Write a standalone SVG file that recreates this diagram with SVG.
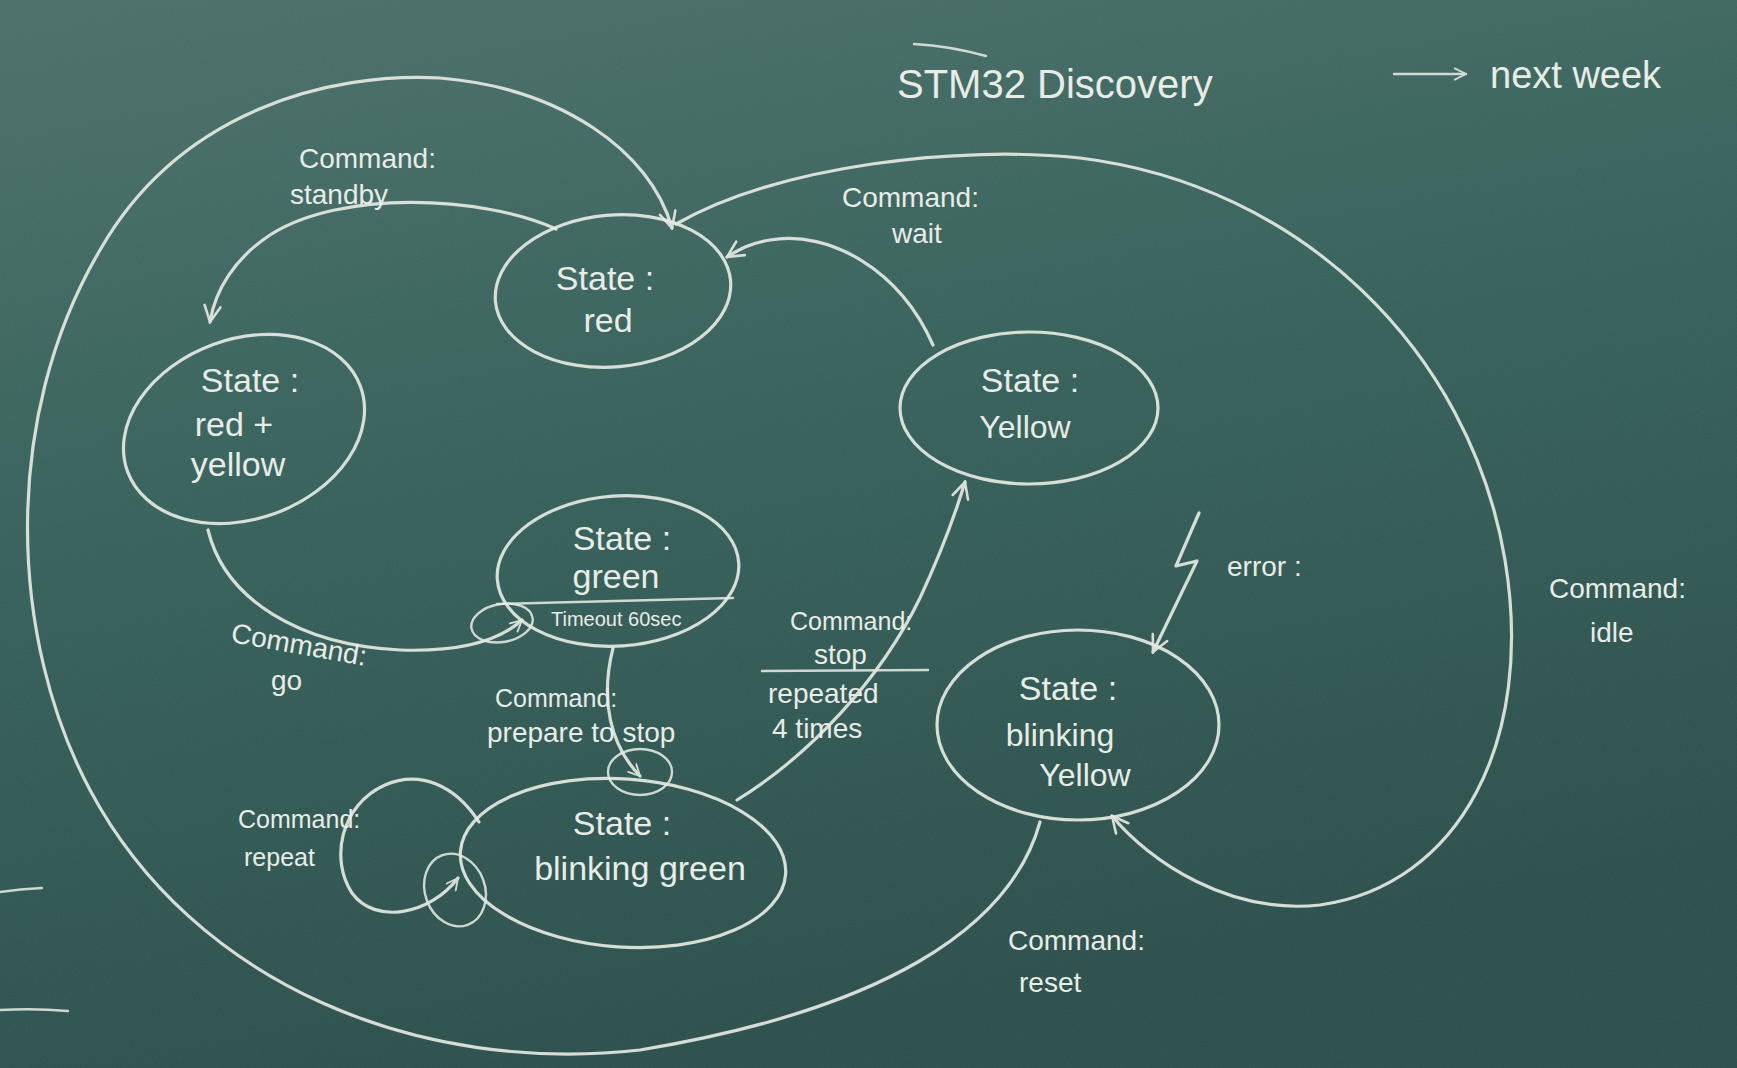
<svg xmlns="http://www.w3.org/2000/svg" width="1737" height="1068" viewBox="0 0 1737 1068">
<defs>
<linearGradient id="board" x1="0" y1="0" x2="0.3" y2="1">
<stop offset="0" stop-color="#4a6f68"/>
<stop offset="0.45" stop-color="#35605a"/>
<stop offset="1" stop-color="#2a4e4a"/>
</linearGradient>
<filter id="noise" x="0" y="0" width="100%" height="100%">
<feTurbulence type="fractalNoise" baseFrequency="0.9" numOctaves="2" seed="3"/>
<feColorMatrix values="0 0 0 0 1  0 0 0 0 1  0 0 0 0 1  0 0 0 0.06 0"/>
</filter>
<marker id="arr" viewBox="0 0 20 20" refX="18" refY="10" markerWidth="20" markerHeight="20" markerUnits="userSpaceOnUse" orient="auto">
<path d="M2,2 L18,10 L2,18" fill="none" stroke="#e4e9e2" stroke-width="2.6" stroke-linecap="round"/>
</marker>
<marker id="arrS" viewBox="0 0 20 20" refX="18" refY="10" markerWidth="14" markerHeight="14" markerUnits="userSpaceOnUse" orient="auto">
<path d="M2,2 L18,10 L2,18" fill="none" stroke="#e4e9e2" stroke-width="2.6" stroke-linecap="round"/>
</marker>
</defs>
<style>
.chalk{fill:none;stroke:#e4e9e2;stroke-width:3.2;stroke-linecap:round;stroke-linejoin:round;opacity:0.92}
.thin{fill:none;stroke:#e4e9e2;stroke-width:2.4;stroke-linecap:round;opacity:0.88}
.st{font-family:"Liberation Sans",Arial,sans-serif;font-size:34px;fill:#e8ece6;text-anchor:middle}
.lb{font-family:"Liberation Sans",Arial,sans-serif;font-size:28px;fill:#e8ece6}
.big{font-family:"Liberation Sans",Arial,sans-serif;font-size:40px;fill:#e8ece6}
.sm{font-family:"Liberation Sans",Arial,sans-serif;font-size:20px;fill:#e8ece6}
</style>
<rect width="1737" height="1068" fill="url(#board)"/>
<rect width="1737" height="1068" filter="url(#noise)"/>

<g id="marks">
<path class="thin" d="M914,44 Q950,46 986,56"/>
<path class="thin" d="M0,892 Q20,889 42,888" opacity="0.6"/>
<path class="thin" d="M0,1010 Q35,1008 68,1011" opacity="0.6"/>
</g>

<g id="header">
<text class="big" x="897" y="98">STM32 Discovery</text>
<path class="thin" d="M1394,74 L1466,74" marker-end="url(#arrS)"/>
<text class="big" x="1490" y="88" style="font-size:38px">next week</text>
</g>

<g id="connectors">
<path class="chalk" d="M1040,822 C1010,930 880,1010 640,1050 C420,1075 194,985 90,790 C10,640 0,420 100,250 C180,110 330,72 440,78 C560,88 650,150 672,228" marker-end="url(#arr)"/>
<path class="chalk" d="M676,224 C780,165 960,145 1080,158 C1300,185 1470,350 1505,560 C1535,740 1460,885 1320,905 C1230,915 1150,862 1112,816" marker-end="url(#arr)"/>
<path class="chalk" d="M556,229 C480,195 340,190 270,235 C235,258 215,290 210,322" marker-end="url(#arr)"/>
<path class="chalk" d="M208,530 C225,600 300,645 400,650 C460,652 500,640 522,620" marker-end="url(#arrS)"/>
<path class="chalk" d="M613,648 C600,700 610,745 640,776" marker-end="url(#arrS)"/>
<path class="chalk" d="M737,800 C810,755 880,680 920,598 C940,555 955,515 965,482" marker-end="url(#arr)"/>
<path class="chalk" d="M933,345 C900,270 830,230 770,240 C750,243 738,250 727,257" marker-end="url(#arr)"/>
<path class="chalk" d="M479,822 C455,785 420,770 385,785 C340,805 330,860 352,893 C375,925 430,915 458,878" marker-end="url(#arrS)"/>
<path class="chalk" d="M1199,513 L1176,566 L1197,561 L1153,652" marker-end="url(#arr)"/>
</g>

<g id="labels">
<text class="lb" x="299" y="168">Command:</text>
<text class="lb" x="290" y="204">standby</text>
<text class="lb" x="842" y="207">Command:</text>
<text class="lb" x="892" y="243">wait</text>
<text class="lb" x="230" y="642" transform="rotate(10 230 642)">Command:</text>
<text class="lb" x="271" y="690">go</text>
<text class="lb" x="495" y="707" style="font-size:25px">Command:</text>
<text class="lb" x="487" y="742">prepare to stop</text>
<text class="lb" x="238" y="828" style="font-size:25px">Command:</text>
<text class="lb" x="244" y="866" style="font-size:25px">repeat</text>
<text class="lb" x="790" y="630" style="font-size:25px">Command:</text>
<text class="lb" x="814" y="664">stop</text>
<path class="thin" d="M762,671 L928,670"/>
<text class="lb" x="768" y="703">repeated</text>
<text class="lb" x="772" y="738">4 times</text>
<text class="lb" x="1227" y="576">error :</text>
<text class="lb" x="1549" y="598">Command:</text>
<text class="lb" x="1590" y="642">idle</text>
<text class="lb" x="1008" y="950">Command:</text>
<text class="lb" x="1019" y="992">reset</text>
</g>

<g id="state-red">
<ellipse class="chalk" cx="613" cy="291" rx="118" ry="76" transform="rotate(-5 613 291)"/>
<text class="st" x="605" y="290">State :</text>
<text class="st" x="608" y="332">red</text>
</g>

<g id="state-red-yellow">
<ellipse class="chalk" cx="244" cy="429" rx="124" ry="90" transform="rotate(-20 244 429)"/>
<text class="st" x="250" y="392">State :</text>
<text class="st" x="234" y="436">red +</text>
<text class="st" x="238" y="476">yellow</text>
</g>

<g id="state-green">
<ellipse class="chalk" cx="618" cy="571" rx="121" ry="75" transform="rotate(-4 618 571)"/>
<path class="thin" d="M497,604 L733,598"/>
<text class="st" x="622" y="550">State :</text>
<text class="st" x="616" y="588">green</text>
<text class="sm" x="551" y="626">Timeout 60sec</text>
<ellipse class="thin" cx="502" cy="623" rx="31" ry="19" transform="rotate(-10 502 623)"/>
</g>

<g id="state-yellow">
<ellipse class="chalk" cx="1029" cy="408" rx="129" ry="76"/>
<text class="st" x="1030" y="392">State :</text>
<text class="st" x="1025" y="438" style="font-size:32px">Yellow</text>
</g>

<g id="state-blinking-yellow">
<ellipse class="chalk" cx="1078" cy="725" rx="141" ry="95"/>
<text class="st" x="1068" y="700">State :</text>
<text class="st" x="1060" y="746" style="font-size:32px">blinking</text>
<text class="st" x="1085" y="786" style="font-size:32px">Yellow</text>
</g>

<g id="state-blinking-green">
<ellipse class="chalk" cx="623" cy="863" rx="163" ry="84" transform="rotate(4 623 863)"/>
<text class="st" x="622" y="835">State :</text>
<text class="st" x="640" y="880">blinking green</text>
<ellipse class="thin" cx="640" cy="772" rx="32" ry="23"/>
<ellipse class="thin" cx="455" cy="890" rx="30" ry="37" transform="rotate(-20 455 890)"/>
</g>
</svg>
